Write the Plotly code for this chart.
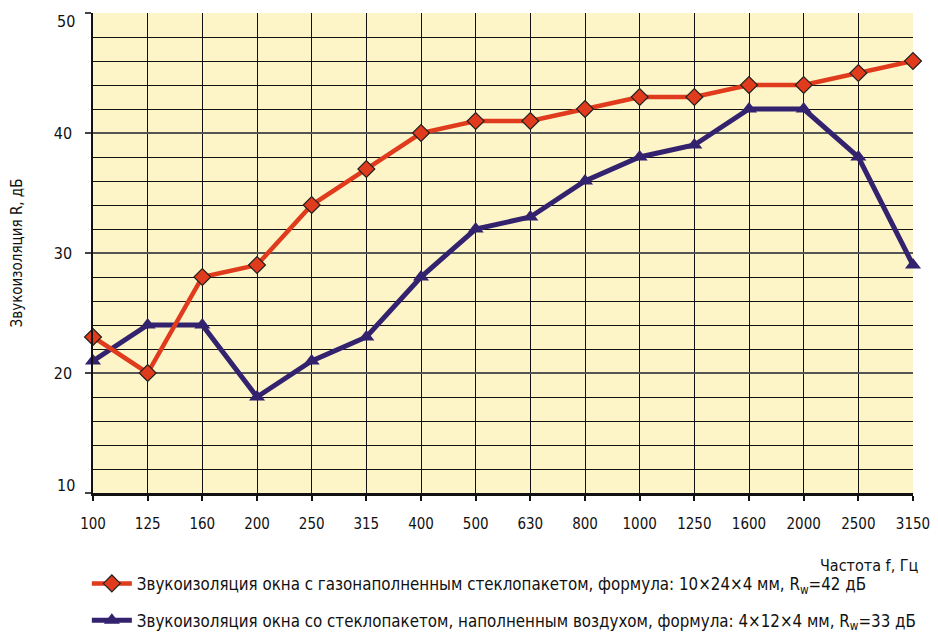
import plotly.graph_objects as go

freqs = ["100", "125", "160", "200", "250", "315", "400", "500", "630", "800",
         "1000", "1250", "1600", "2000", "2500", "3150"]
gas_filled = [23, 20, 28, 29, 34, 37, 40, 41, 41, 42, 43, 43, 44, 44, 45, 46]
air_filled = [21, 24, 24, 18, 21, 23, 28, 32, 33, 36, 38, 39, 42, 42, 38, 29]
y_ticks = [10, 20, 30, 40, 50]

name_gas = "Звукоизоляция окна с газонаполненным стеклопакетом, формула: 10×24×4 мм, R<sub>w</sub>=42 дБ"
name_air = "Звукоизоляция окна со стеклопакетом, наполненным воздухом, формула: 4×12×4 мм, R<sub>w</sub>=33 дБ"

FONT = "DejaVu Sans Condensed, sans-serif"

fig = go.Figure()
# blue first so the red series is drawn on top, as in the reference
fig.add_trace(go.Scatter(
    x=freqs, y=air_filled, mode="lines+markers", name=name_air, legendgroup="b", legendrank=2,
    line=dict(color="#33226E", width=5),
    marker=dict(symbol="triangle-up", size=14, color="#33226E"),
    cliponaxis=False,
))
fig.add_trace(go.Scatter(
    x=freqs, y=gas_filled, mode="lines+markers", name=name_gas, legendgroup="a", legendrank=1,
    line=dict(color="#DF3B1C", width=4.5),
    marker=dict(symbol="diamond", size=13, color="#DF3B1C", line=dict(color="#222", width=1.2)),
    cliponaxis=False,
))

tick_text = ["" if v in (y_ticks[0], y_ticks[-1]) else str(v) for v in y_ticks]
edge_annotations = [
    dict(text=str(v), xref="paper", yref="y", x=0, y=v, xanchor="right", yanchor="middle",
         xshift=-16, yshift=(-8 if v == y_ticks[-1] else 8), showarrow=False,
         font=dict(family=FONT, size=16, color="#111"))
    for v in (y_ticks[0], y_ticks[-1])
]

fig.update_layout(
    width=930, height=625,
    margin=dict(l=85, r=25, t=5, b=140, autoexpand=False),
    paper_bgcolor="white", plot_bgcolor="#FDF5C8",
    font=dict(family=FONT, size=15, color="#111"),
    showlegend=True,
    legend=dict(orientation="v", x=-0.0075, xanchor="left", xref="paper",
                y=1 - 558 / 625, yanchor="top", yref="container",
                font=dict(family=FONT, size=16.8, color="#111"),
                tracegroupgap=12, itemwidth=40, bgcolor="rgba(0,0,0,0)",
                traceorder="grouped"),
    xaxis=dict(
        type="category", range=[0, 15], showgrid=True, gridcolor="#111", gridwidth=1,
        showline=True, linecolor="#111", linewidth=2.5, mirror=False,
        ticks="outside", ticklen=5, tickcolor="#111", tickwidth=1.5,
        ticklabelstandoff=10, tickfont=dict(size=15), zeroline=False, automargin=False,
        ticklabeloverflow="allow",
    ),
    yaxis=dict(
        range=[10, 50], tickmode="array", tickvals=y_ticks, ticktext=tick_text,
        showgrid=True, gridcolor="#555", gridwidth=2,
        showline=True, linecolor="#111", linewidth=1.5,
        ticks="outside", ticklen=6, tickcolor="#444", tickwidth=2,
        ticklabelstandoff=10, tickfont=dict(size=16), zeroline=False, automargin=False,
        ticklabeloverflow="allow",
        minor=dict(dtick=2, showgrid=True, gridcolor="#111", gridwidth=1, ticks=""),
        title=dict(text="Звукоизоляция R, дБ", font=dict(size=15), standoff=32),
    ),
    annotations=[dict(text="Частота f, Гц", xref="paper", yref="paper", x=1.01, y=-72 / 480,
                      xanchor="right", yanchor="middle", showarrow=False,
                      font=dict(family=FONT, size=16, color="#111"))] + edge_annotations,
)

fig.write_html("out.html")
